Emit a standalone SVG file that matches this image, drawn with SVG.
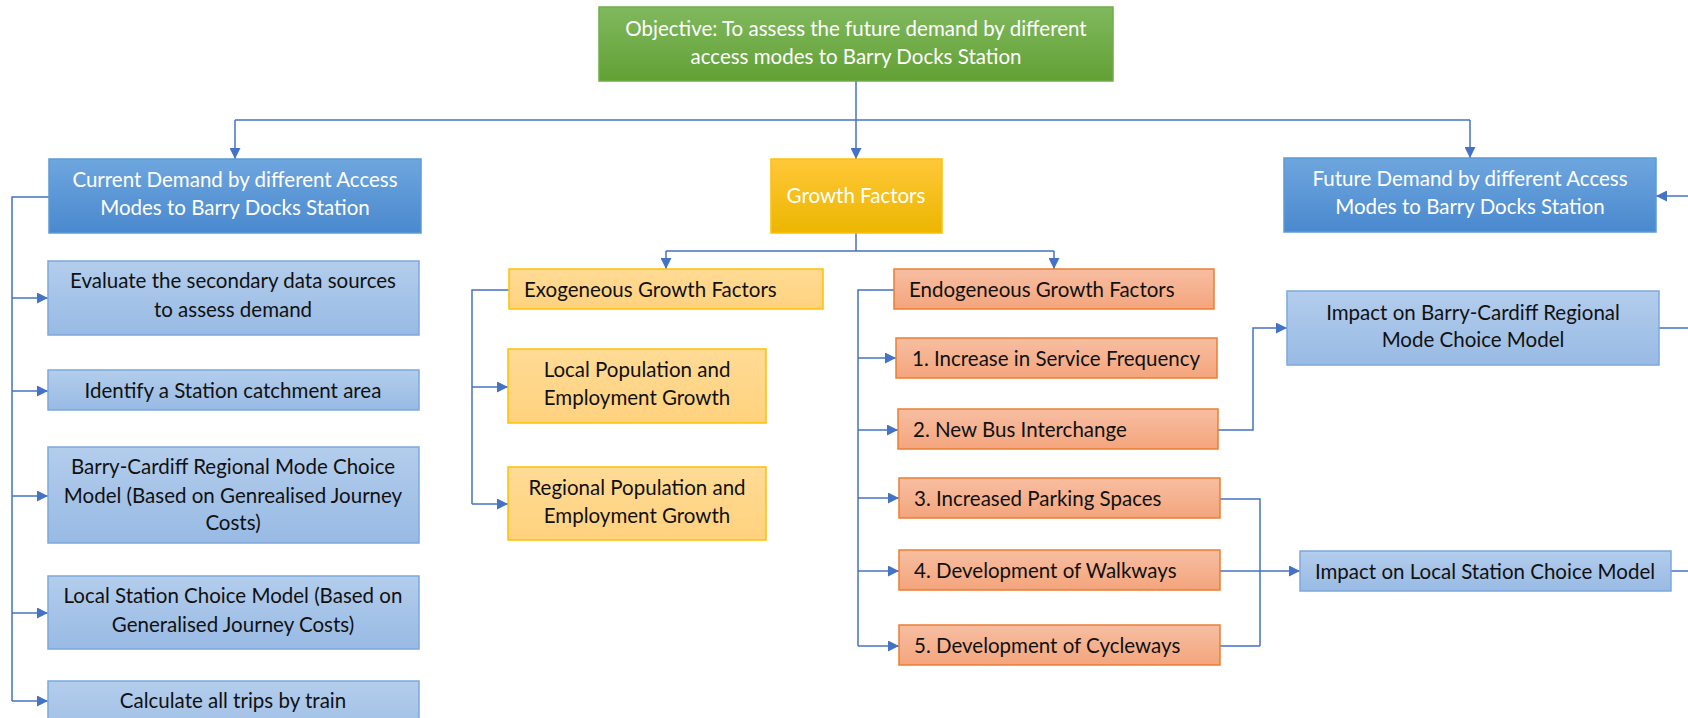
<svg xmlns="http://www.w3.org/2000/svg" width="1688" height="718" viewBox="0 0 1688 718">
<defs>
<linearGradient id="gGreen" x1="0" y1="0" x2="0" y2="1"><stop offset="0" stop-color="#80b95e"/><stop offset="1" stop-color="#62a034"/></linearGradient>
<linearGradient id="gBlue" x1="0" y1="0" x2="0" y2="1"><stop offset="0" stop-color="#6ea6de"/><stop offset="1" stop-color="#4a89cf"/></linearGradient>
<linearGradient id="gLBlue" x1="0" y1="0" x2="0" y2="1"><stop offset="0" stop-color="#b3cdec"/><stop offset="1" stop-color="#98bae4"/></linearGradient>
<linearGradient id="gGold" x1="0" y1="0" x2="0" y2="1"><stop offset="0" stop-color="#ffc839"/><stop offset="1" stop-color="#ecb600"/></linearGradient>
<linearGradient id="gLGold" x1="0" y1="0" x2="0" y2="1"><stop offset="0" stop-color="#ffdb95"/><stop offset="1" stop-color="#ffd27e"/></linearGradient>
<linearGradient id="gSalmon" x1="0" y1="0" x2="0" y2="1"><stop offset="0" stop-color="#f7bea2"/><stop offset="1" stop-color="#f4a57c"/></linearGradient>
<marker id="arr" viewBox="0 0 11 11" refX="11" refY="5.5" markerWidth="11" markerHeight="11" orient="auto" markerUnits="userSpaceOnUse"><path d="M0,0 L11,5.5 L0,11 z" fill="#4472c4"/></marker>
</defs>
<style>
text{font-family:Lato,"Liberation Sans",sans-serif;font-size:20.5px;fill:#111}
.w{fill:#fff}
.c{text-anchor:middle}
.green{fill:url(#gGreen);stroke:#70ad47;stroke-width:1.5}
.blue{fill:url(#gBlue);stroke:#5b9bd5;stroke-width:1.5}
.lblue{fill:url(#gLBlue);stroke:#7ea9dc;stroke-width:1.5}
.gold{fill:url(#gGold);stroke:#ffc000;stroke-width:1.5}
.lgold{fill:url(#gLGold);stroke:#ffc000;stroke-width:1.5}
.salmon{fill:url(#gSalmon);stroke:#ed7d31;stroke-width:1.5}
.conn path{fill:none;stroke:#4472c4;stroke-width:1.5}
.a{marker-end:url(#arr)}
</style>
<rect width="1688" height="718" fill="#fff"/>
<g class="conn">
<path class="a" d="M856,81 V159"/>
<path d="M235,120 H1470"/>
<path class="a" d="M235,120 V159"/>
<path class="a" d="M1470,120 V158"/>
<path d="M49,197 H12 V701"/>
<path class="a" d="M12,298 H48"/>
<path class="a" d="M12,391 H48"/>
<path class="a" d="M12,496 H48"/>
<path class="a" d="M12,613 H48"/>
<path class="a" d="M12,701 H48"/>
<path d="M856,233 V251 M666,251 H1054"/>
<path class="a" d="M666,251 V269"/>
<path class="a" d="M1054,251 V269"/>
<path d="M509,290 H472 V504"/>
<path class="a" d="M472,387 H508"/>
<path class="a" d="M472,504 H508"/>
<path d="M894,290 H858 V646"/>
<path class="a" d="M858,358 H896"/>
<path class="a" d="M858,430 H898"/>
<path class="a" d="M858,498 H899"/>
<path class="a" d="M858,571 H899"/>
<path class="a" d="M858,646 H899"/>
<path class="a" d="M1218,430 H1253 V328 H1287"/>
<path d="M1659,328 H1688"/>
<path d="M1220,499 H1260 V646 M1220,646 H1260"/>
<path class="a" d="M1220,571 H1300"/>
<path d="M1671,571 H1688"/>
<path class="a" d="M1688,196 H1656"/>
</g>
<g id="objective">
<rect class="green" x="599" y="7" width="514" height="74"/>
<text class="w c" x="856" y="36">Objective: To assess the future demand by different</text>
<text class="w c" x="856" y="64">access modes to Barry Docks Station</text>
</g>
<g id="current-demand">
<rect class="blue" x="49" y="159" width="372" height="74"/>
<text class="w c" x="235" y="187">Current Demand by different Access</text>
<text class="w c" x="235" y="215">Modes to Barry Docks Station</text>
</g>
<g id="evaluate">
<rect class="lblue" x="48" y="261" width="371" height="74"/>
<text class="c" x="233" y="288">Evaluate the secondary data sources</text>
<text class="c" x="233" y="317">to assess demand</text>
</g>
<g id="identify">
<rect class="lblue" x="48" y="370" width="371" height="40"/>
<text class="c" x="233" y="398">Identify a Station catchment area</text>
</g>
<g id="barry-cardiff-model">
<rect class="lblue" x="48" y="447" width="371" height="96"/>
<text class="c" x="233" y="474">Barry-Cardiff Regional Mode Choice</text>
<text class="c" x="233" y="503">Model (Based on Genrealised Journey</text>
<text class="c" x="233" y="530">Costs)</text>
</g>
<g id="local-station-model">
<rect class="lblue" x="48" y="576" width="371" height="73"/>
<text class="c" x="233" y="603">Local Station Choice Model (Based on</text>
<text class="c" x="233" y="632">Generalised Journey Costs)</text>
</g>
<g id="calculate">
<rect class="lblue" x="48" y="681" width="371" height="74"/>
<text class="c" x="233" y="708">Calculate all trips by train</text>
</g>
<g id="growth-factors">
<rect class="gold" x="771" y="159" width="171" height="74"/>
<text class="w c" x="856" y="203">Growth Factors</text>
</g>
<g id="exogeneous">
<rect class="lgold" x="509" y="269" width="314" height="40"/>
<text x="524" y="297">Exogeneous Growth Factors</text>
</g>
<g id="local-population">
<rect class="lgold" x="508" y="349" width="258" height="74"/>
<text class="c" x="637" y="377">Local Population and</text>
<text class="c" x="637" y="405">Employment Growth</text>
</g>
<g id="regional-population">
<rect class="lgold" x="508" y="467" width="258" height="73"/>
<text class="c" x="637" y="495">Regional Population and</text>
<text class="c" x="637" y="523">Employment Growth</text>
</g>
<g id="endogeneous">
<rect class="salmon" x="894" y="269" width="320" height="40"/>
<text x="909" y="297">Endogeneous Growth Factors</text>
</g>
<g id="item1">
<rect class="salmon" x="896" y="338" width="321" height="40"/>
<text x="912" y="366">1. Increase in Service Frequency</text>
</g>
<g id="item2">
<rect class="salmon" x="898" y="409" width="320" height="40"/>
<text x="913" y="437">2. New Bus Interchange</text>
</g>
<g id="item3">
<rect class="salmon" x="899" y="478" width="321" height="40"/>
<text x="914" y="506">3. Increased Parking Spaces</text>
</g>
<g id="item4">
<rect class="salmon" x="899" y="550" width="321" height="40"/>
<text x="914" y="578">4. Development of Walkways</text>
</g>
<g id="item5">
<rect class="salmon" x="899" y="625" width="321" height="40"/>
<text x="914" y="653">5. Development of Cycleways</text>
</g>
<g id="future-demand">
<rect class="blue" x="1284" y="158" width="372" height="74"/>
<text class="w c" x="1470" y="186">Future Demand by different Access</text>
<text class="w c" x="1470" y="214">Modes to Barry Docks Station</text>
</g>
<g id="impact-barry-cardiff">
<rect class="lblue" x="1287" y="291" width="372" height="74"/>
<text class="c" x="1473" y="320">Impact on Barry-Cardiff Regional</text>
<text class="c" x="1473" y="347">Mode Choice Model</text>
</g>
<g id="impact-local-station">
<rect class="lblue" x="1300" y="551" width="371" height="40"/>
<text class="c" x="1485" y="579">Impact on Local Station Choice Model</text>
</g>
</svg>
